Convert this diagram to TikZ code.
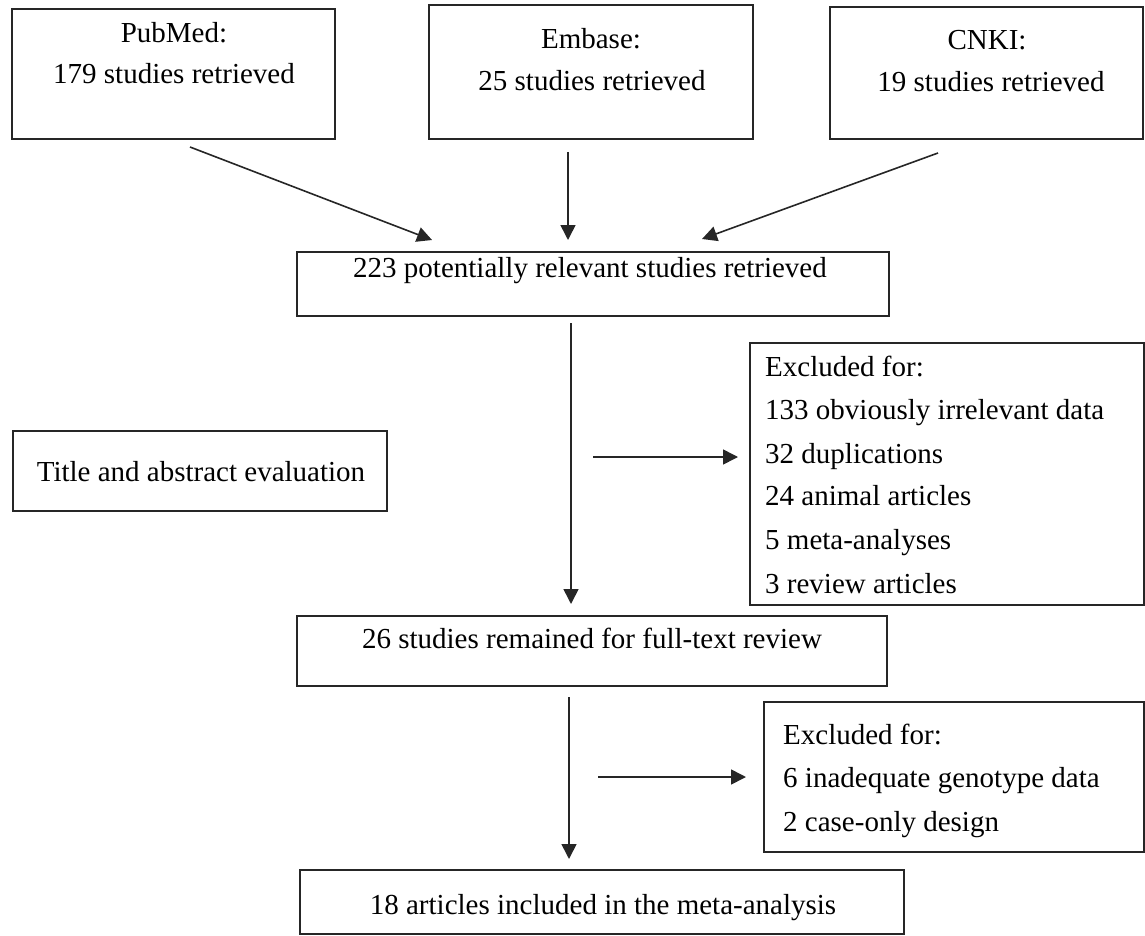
\documentclass[tikz,border=0pt]{standalone}
\usepackage{fontspec}
\setmainfont{Liberation Serif}
\usetikzlibrary{arrows.meta,fit}
\begin{document}
\begin{tikzpicture}[x=1pt,y=-1pt,
  box/.style={draw=black!85, line width=1.7pt, inner sep=0pt, fill=none},
  txt/.style={inner sep=0pt, anchor=base, font=\fontsize{29}{35}\selectfont, text=black},
  ltxt/.style={txt, anchor=base west},
  arr/.style={draw=black!85, line width=1.6pt, -{Triangle[length=15pt,width=15pt]}}
]
\useasboundingbox (0,0) rectangle (1145,936);

% boxes
\node[box, fit={(12,9) (335,139)}] (pubmed) {};
\node[box, fit={(429,5) (753,139)}] (embase) {};
\node[box, fit={(830,7) (1143,139)}] (cnki) {};
\node[box, fit={(297,252) (889,316)}] (b223) {};
\node[box, fit={(13,431) (387,511)}] (title) {};
\node[box, fit={(750,343) (1144,605)}] (excla) {};
\node[box, fit={(297,616) (887,686)}] (b26) {};
\node[box, fit={(764,702) (1144,852)}] (exclb) {};
\node[box, fit={(300,870) (904,934)}] (b18) {};

% texts
\node[txt] (pubmedA) at (174,43) {PubMed:};
\node[txt] (pubmedB) at (174,84) {179 studies retrieved};
\node[txt] (embaseA) at (591,49) {Embase:};
\node[txt] (embaseB) at (592,91) {25 studies retrieved};
\node[txt] (cnkiA) at (987,50) {CNKI:};
\node[txt] (cnkiB) at (991,92) {19 studies retrieved};
\node[txt] (t223) at (590,277) {223 potentially relevant studies retrieved};
\node[txt] (ttitle) at (201,481) {Title and abstract evaluation};
\node[ltxt] (ea1) at (765,376) {Excluded for:};
\node[ltxt] (ea2) at (765,419) {133 obviously irrelevant data};
\node[ltxt] (ea3) at (765,463) {32 duplications};
\node[ltxt] (ea4) at (765,505) {24 animal articles};
\node[ltxt] (ea5) at (765,549) {5 meta-analyses};
\node[ltxt] (ea6) at (765,593) {3 review articles};
\node[txt] (t26) at (592,648) {26 studies remained for full-text review};
\node[ltxt] (eb1) at (783,744) {Excluded for:};
\node[ltxt] (eb2) at (783,787) {6 inadequate genotype data};
\node[ltxt] (eb3) at (783,831) {2 case-only design};
\node[txt] (t18) at (603,914) {18 articles included in the meta-analysis};

% connector end points
\coordinate (pS) at (190,147);
\coordinate (pE) at (432,240);
\coordinate (eS) at (568,152);
\coordinate (eE) at (568,240);
\coordinate (cS) at (938,153);
\coordinate (cE) at (702,239);
\coordinate (mS) at (571,323);
\coordinate (mE) at (571,604);
\coordinate (rS) at (593,457);
\coordinate (rE) at (738,457);
\coordinate (dS) at (569,697);
\coordinate (dE) at (569,859);
\coordinate (r2S) at (598,777);
\coordinate (r2E) at (746,777);

\draw[arr] (pS) -- (pE);
\draw[arr] (eS) -- (eE);
\draw[arr] (cS) -- (cE);
\draw[arr] (mS) -- (mE);
\draw[arr] (rS) -- (rE);
\draw[arr] (dS) -- (dE);
\draw[arr] (r2S) -- (r2E);
\end{tikzpicture}
\end{document}
